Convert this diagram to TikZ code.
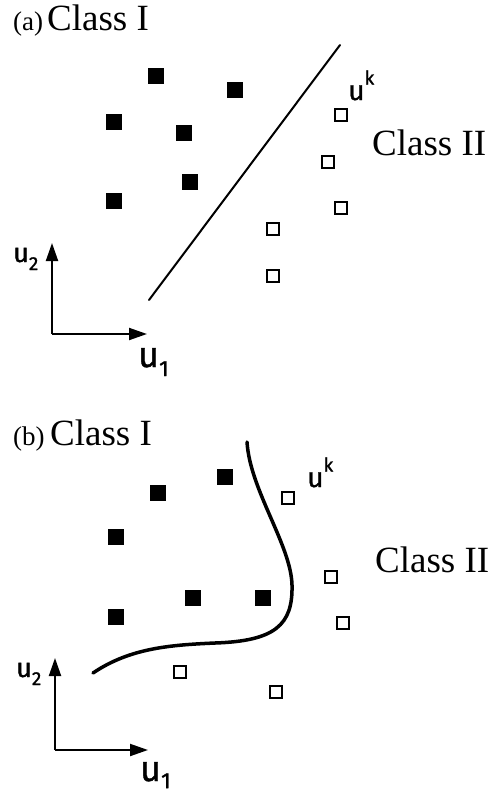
\documentclass[tikz,border=0pt]{standalone}
\usepackage{fontspec}
\setmainfont{Liberation Serif}
\newfontfamily\ufont[FakeBold=1.2]{Fira Sans}
\usetikzlibrary{arrows.meta}
\newcommand{\ulab}[4]{{\ufont\fontsize{#1}{#1}\selectfont u\raisebox{#3}{\fontsize{#2}{#2}\selectfont #4}}}
\begin{document}
\begin{tikzpicture}[x=1pt,y=-1pt,
  fsq/.style={draw=none,fill=black,minimum size=16pt,inner sep=0pt},
  osq/.style={draw=black,line width=2pt,fill=white,minimum size=12pt,inner sep=0pt},
  lbl/.style={anchor=base west,inner sep=0pt},
  cls/.style={lbl,font=\fontsize{37}{37}\selectfont},
  tag/.style={lbl,font=\fontsize{27}{27}\selectfont},
  axis/.style={line width=2pt,-{Triangle[length=18pt,width=12pt]}},
  sep/.style={line width=2pt,line cap=round},
  curve/.style={line width=3.5pt,line cap=round}]
\useasboundingbox (0,0) rectangle (499,796);
% ---------- panel (a)
\node[tag] (taga) at (13,30) {(a)};
\node[cls] (c1a) at (47,30) {Class I};
\node[cls] (c2a) at (372,155) {Class II};
\node[lbl] (uka) at (348,100) {\ulab{28}{19}{0.55em}{k}};
\node[fsq] (fa1) at (156,76) {};
\node[fsq] (fa2) at (235,90) {};
\node[fsq] (fa3) at (114,122) {};
\node[fsq] (fa4) at (184,133) {};
\node[fsq] (fa5) at (190,182) {};
\node[fsq] (fa6) at (114,201) {};
\node[osq] (oa1) at (341,115) {};
\node[osq] (oa2) at (328,162) {};
\node[osq] (oa3) at (341,208) {};
\node[osq] (oa4) at (273,229) {};
\node[osq] (oa5) at (273,276) {};
\coordinate (la1) at (149,300);
\coordinate (la2) at (340,45);
\draw[sep] (la1) -- (la2);
\coordinate (oxa) at (52,334);
\coordinate (ya) at (52,243);
\coordinate (xa) at (147,334);
\draw[axis] (oxa) -- (ya);
\draw[axis] (oxa) -- (xa);
\node[lbl] (u2a) at (13,262) {\ulab{27}{19}{-0.3em}{2}};
\node[lbl] (u1a) at (138,367) {\ulab{36}{22}{-0.25em}{1}};
% ---------- panel (b)
\node[tag] (tagb) at (13,445) {(b)};
\node[cls] (c1b) at (50,445) {Class I};
\node[cls] (c2b) at (375,572) {Class II};
\node[lbl] (ukb) at (307,487) {\ulab{28}{19}{0.55em}{k}};
\node[fsq] (fb1) at (225,477) {};
\node[fsq] (fb2) at (158,493) {};
\node[fsq] (fb3) at (116,537) {};
\node[fsq] (fb4) at (193,598) {};
\node[fsq] (fb5) at (263,598) {};
\node[fsq] (fb6) at (116,617) {};
\node[osq] (ob1) at (288,498) {};
\node[osq] (ob2) at (331,577) {};
\node[osq] (ob3) at (343,623) {};
\node[osq] (ob4) at (180,672) {};
\node[osq] (ob5) at (276,692) {};
\coordinate (cb0) at (93,673);
\coordinate (cb1) at (215,643);
\coordinate (cb2) at (292,585);
\coordinate (cb3) at (247,442);
\draw[curve] (cb0) .. controls (130,648) and (170,645) .. (cb1)
  .. controls (275,641) and (293,625) .. (cb2)
  .. controls (291,545) and (250,490) .. (cb3);
\coordinate (oxb) at (55,750);
\coordinate (yb) at (55,658);
\coordinate (xb) at (148,750);
\draw[axis] (oxb) -- (yb);
\draw[axis] (oxb) -- (xb);
\node[lbl] (u2b) at (16,677) {\ulab{27}{19}{-0.3em}{2}};
\node[lbl] (u1b) at (140,781) {\ulab{36}{22}{-0.2em}{1}};
\end{tikzpicture}
\end{document}
